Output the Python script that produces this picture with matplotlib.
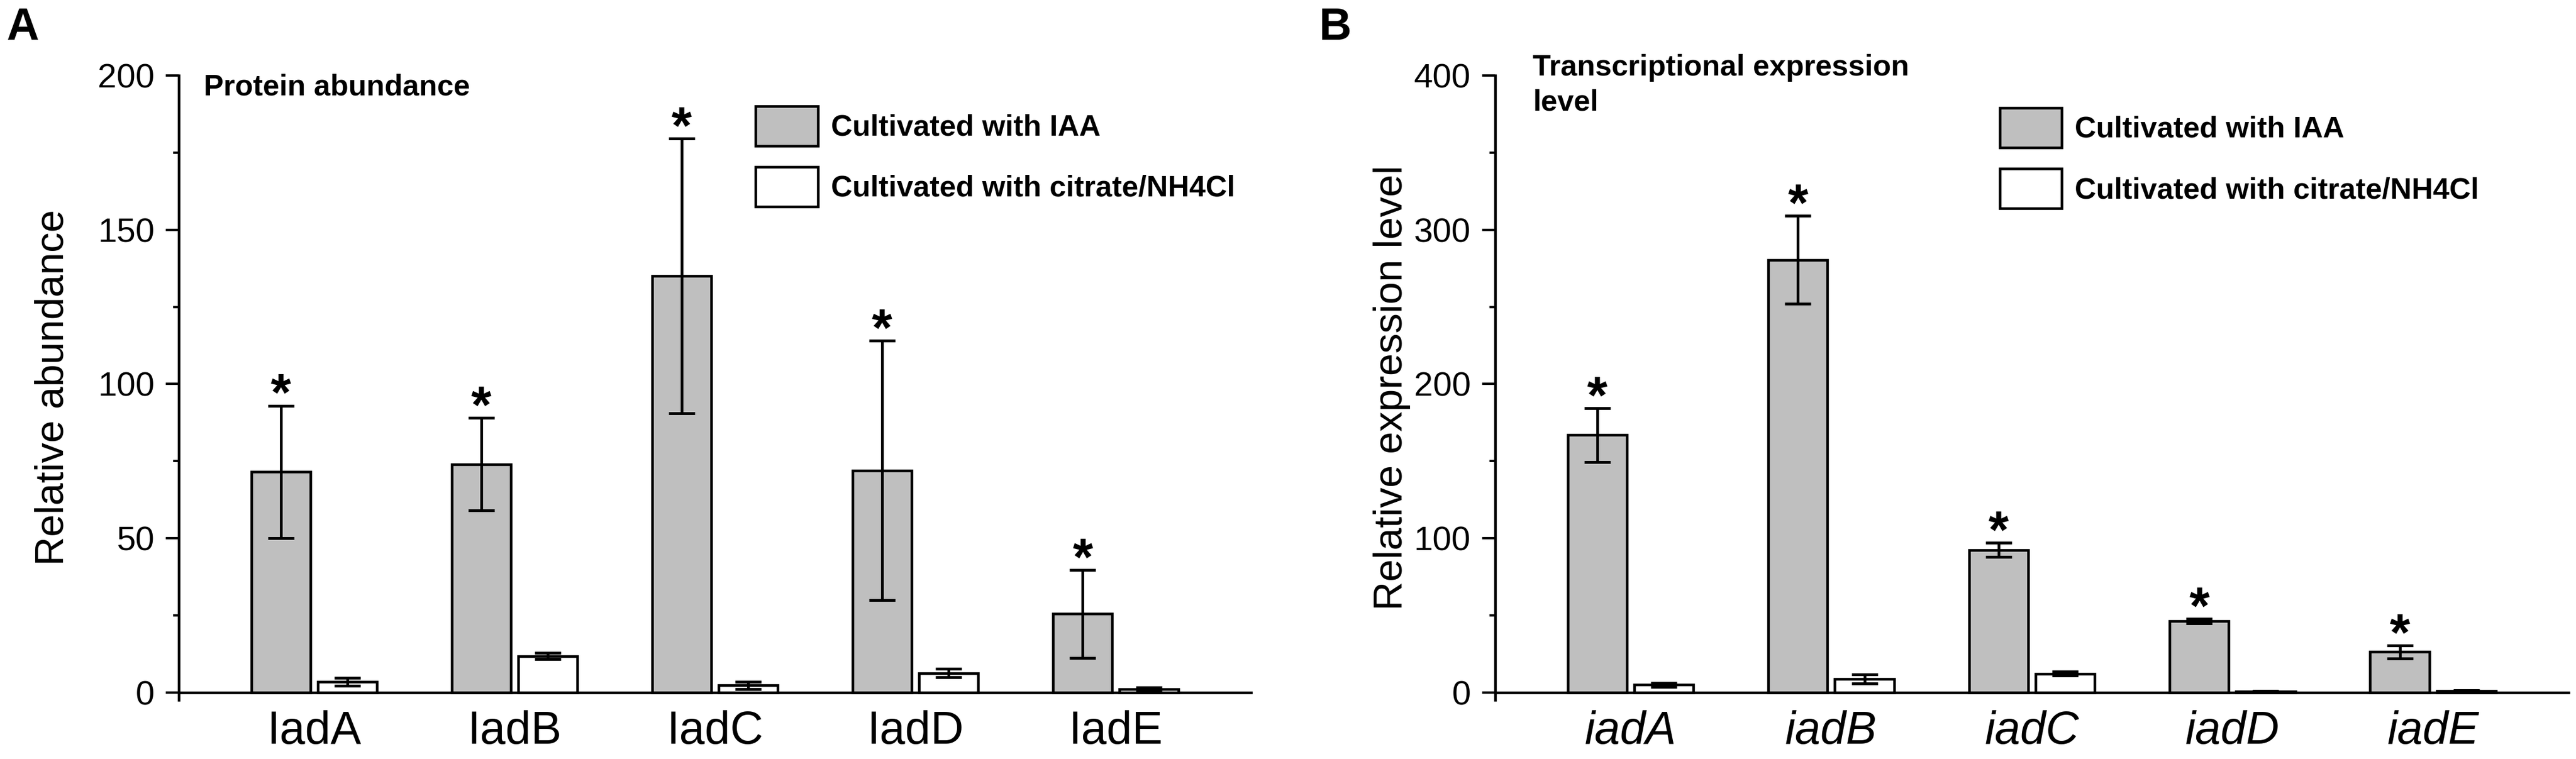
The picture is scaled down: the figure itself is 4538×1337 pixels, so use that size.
import matplotlib
matplotlib.use("Agg")
import matplotlib.pyplot as plt
import numpy as np
from matplotlib.ticker import MultipleLocator

plt.rcParams['font.family'] = ['Liberation Sans', 'DejaVu Sans']

# ---- data ----
proteins = ['IadA', 'IadB', 'IadC', 'IadD', 'IadE']
genes = ['iadA', 'iadB', 'iadC', 'iadD', 'iadE']

prot_iaa = [71.5, 74.0, 135.0, 72.0, 25.5]
prot_iaa_err = [21.5, 15.0, 44.5, 42.0, 14.3]
prot_cit = [3.5, 11.8, 2.3, 6.3, 1.1]
prot_cit_err = [1.3, 1.0, 1.2, 1.4, 0.5]

expr_iaa = [167.0, 280.5, 92.5, 46.3, 26.3]
expr_iaa_err = [17.5, 28.5, 4.7, 1.5, 4.3]
expr_cit = [5.0, 8.8, 12.3, 0.7, 1.0]
expr_cit_err = [1.2, 3.0, 1.2, 0.3, 0.4]

lab_iaa = 'Cultivated with IAA'
lab_cit = 'Cultivated with citrate/NH4Cl'

gray = '#bfbfbf'
lw = 1.1
width = 0.295
off = 0.166


def draw_panel(ax, cats, iaa, iaa_err, cit, cit_err, ymax, ybot, major, minor,
               italic, title, leg_xy, title_xy, labelpad, ylabel):
    x = np.arange(len(cats))
    b1 = ax.bar(x - off, iaa, width, color=gray, edgecolor='black', linewidth=lw,
                label=lab_iaa, zorder=2)
    b2 = ax.bar(x + off, cit, width, color='white', edgecolor='black', linewidth=lw,
                label=lab_cit, zorder=2)
    ax.errorbar(x - off, iaa, yerr=iaa_err, fmt='none', ecolor='black',
                elinewidth=1.15, capsize=5.5, capthick=1.2, zorder=3)
    ax.errorbar(x + off, cit, yerr=cit_err, fmt='none', ecolor='black',
                elinewidth=1.15, capsize=5.5, capthick=1.2, zorder=3)
    # significance marks above the IAA bars
    for xi, v, e in zip(x, iaa, iaa_err):
        ax.annotate('*', xy=(xi - off, v + e), xytext=(0, -2), textcoords='offset points',
                    ha='center', va='baseline', fontsize=22, fontweight='bold')

    ax.set_xlim(-0.675, len(cats) - 1 + 0.675)
    ax.set_ylim(ybot, ymax)
    ax.spines['top'].set_visible(False)
    ax.spines['right'].set_visible(False)
    ax.spines['bottom'].set_position(('data', 0))
    ax.spines['left'].set_linewidth(lw)
    ax.spines['bottom'].set_linewidth(lw)
    ax.yaxis.set_major_locator(MultipleLocator(major))
    ax.yaxis.set_minor_locator(MultipleLocator(minor))
    ax.set_yticks(np.arange(0, ymax + 1, major))
    ax.tick_params(axis='y', which='major', length=5.5, width=1.0, pad=4.8, labelsize=14.4)
    ax.tick_params(axis='y', which='minor', length=2.5, width=1.0)
    ax.set_xticks(x)
    ax.set_xticklabels(cats, fontsize=19.4, style='italic' if italic else 'normal')
    ax.tick_params(axis='x', length=0, pad=7.5)
    ax.set_ylabel(ylabel, fontsize=17, labelpad=labelpad)

    ax.text(title_xy[0], title_xy[1], title, transform=ax.transAxes, ha='left', va='top',
            fontsize=12.5, fontweight='bold', linespacing=1.35)
    ax.legend(handles=[b1, b2], loc='upper left', bbox_to_anchor=leg_xy, frameon=False,
              prop={'size': 12.5, 'weight': 'bold'}, borderpad=0, borderaxespad=0,
              handlelength=2.1, handleheight=1.68, labelspacing=0.72, handletextpad=0.45)


fig = plt.figure(figsize=(4538 / 300, 1337 / 300), dpi=300)
axA = fig.add_axes([0.0694, 0.0778, 0.4163, 0.8227])
axB = fig.add_axes([0.5804, 0.0778, 0.4167, 0.8227])

draw_panel(axA, proteins, prot_iaa, prot_iaa_err, prot_cit, prot_cit_err,
           200, -2.4, 50, 25, False, 'Protein abundance',
           (0.538, 0.951), (0.0233, 1.003), 11, 'Relative abundance')
draw_panel(axB, genes, expr_iaa, expr_iaa_err, expr_cit, expr_cit_err,
           400, -4.8, 100, 50, True, 'Transcriptional expression\nlevel',
           (0.470, 0.948), (0.035, 1.035), 1.5, 'Relative expression level')

fig.text(0.0024, 0.991, 'A', ha='left', va='top', fontsize=19, fontweight='bold')
fig.text(0.512, 0.991, 'B', ha='left', va='top', fontsize=19, fontweight='bold')

fig.savefig('out.png', dpi=300)
